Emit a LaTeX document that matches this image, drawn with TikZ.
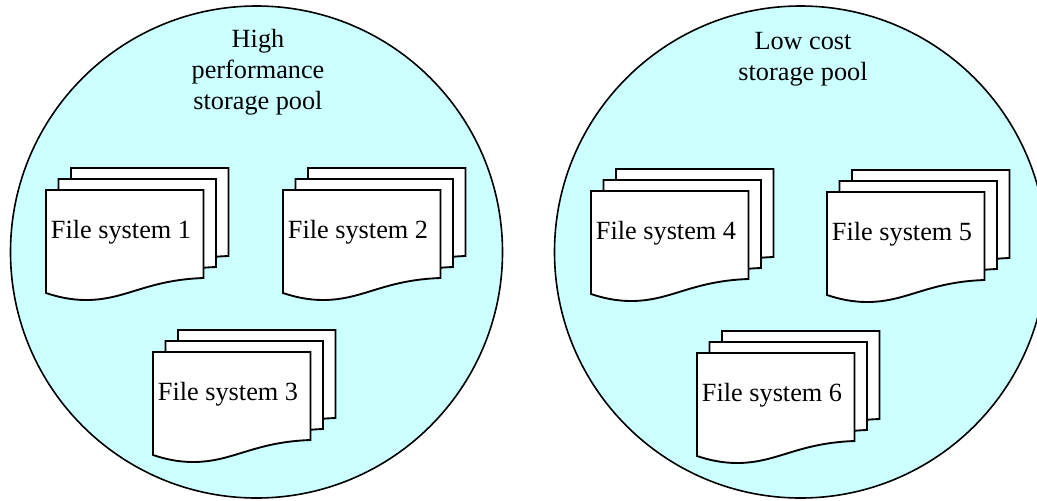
\documentclass[tikz,border=0pt]{standalone}
\usepackage{fontspec}
\setmainfont{Liberation Serif}
\usepackage{tikz}
\usetikzlibrary{positioning}

\definecolor{poolcyan}{HTML}{CCFFFF}
\newcommand{\sheetshape}{(0,0) -- (157.5,0) -- (157.5,88) .. controls (100,90) and (80,110) .. (40,110) .. controls (25,110) and (12,107) .. (0,103) -- cycle}
\newcommand{\filestack}[4]{
    \begin{scope}[shift={(#2,#3)}]
        \draw [sheet, shift={(25,-22)}] \sheetshape;
        \draw [sheet, shift={(12.5,-11)}] \sheetshape;
        \draw [sheet] \sheetshape;
        \node (#1) [sheetlabel] at (75,48) {#4};
    \end{scope}
}

\begin{document}
\begin{tikzpicture}[x=0.75pt, y=-0.75pt, font=\fontsize{19.7}{22.9}\selectfont]
    \tikzstyle{pool} = [circle, draw=black, fill=poolcyan, line width=1.2pt, minimum size=369pt, inner sep=0pt]
    \tikzstyle{sheet} = [draw=black, fill=white, line width=1.4pt]
    \tikzstyle{sheetlabel} = [anchor=base, inner sep=0pt]
    \tikzstyle{title} = [anchor=base, align=center, inner sep=0pt]

    \useasboundingbox (0,0) rectangle (1037,500);

    \node (fastpool) [pool] at (256.5,252) {};
    \node (cheappool) [pool] at (800.5,252) {};

    \node (fasttitle) [title] at (258,109) {High\\performance\\storage pool};
    \node (cheaptitle) [title] at (803,80) {Low cost\\storage pool};

    \filestack{fs1}{46}{190}{File system 1}
    \filestack{fs2}{283}{190}{File system 2}
    \filestack{fs3}{153}{352}{File system 3}
    \filestack{fs4}{591}{191}{File system 4}
    \filestack{fs5}{827}{192}{File system 5}
    \filestack{fs6}{697}{353}{File system 6}
\end{tikzpicture}
\end{document}
